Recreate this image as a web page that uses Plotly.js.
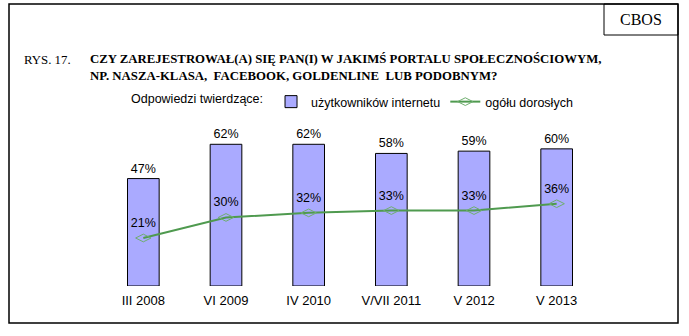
<!DOCTYPE html>
<html><head><meta charset="utf-8">
<script src="https://cdn.plot.ly/plotly-3.0.1.min.js"></script>
<style>html,body{margin:0;padding:0;background:#fff}#chart{width:689px;height:336px}</style>
</head><body><div id="chart"></div>
<script>
const categories = ["III 2008", "VI 2009", "IV 2010", "V/VII 2011", "V 2012", "V 2013"];
const internetUsers = [47, 62, 62, 58, 59, 60];
const allAdults = [21, 30, 32, 33, 33, 36];
const seriesNames = ["użytkowników internetu", "ogółu dorosłych"];

const W = 689, H = 336;
const M = {l: 102, r: 91, t: 126, b: 50};
const pw = W - M.l - M.r, ph = H - M.t - M.b;
const px = x => (x - M.l) / pw;
const py = y => (H - M.b - y) / ph;

const serif = "Liberation Serif, Times New Roman, serif";
const sans = "Liberation Sans, Arial, sans-serif";

const traces = [
  {
    type: "bar", x: categories, y: internetUsers, name: seriesNames[0],
    marker: {color: "#aaaaff", line: {color: "#000", width: 1}},
    text: internetUsers.map(v => v + "%"), textposition: "outside",
    textfont: {family: sans, size: 12.5, color: "#000"}, cliponaxis: false
  },
  {
    type: "scatter", mode: "lines+markers+text", x: categories, y: allAdults, name: seriesNames[1],
    line: {color: "#4f9a4f", width: 2},
    marker: {symbol: "diamond-wide-open", size: 11, color: "#6fae6f", line: {width: 1}},
    text: allAdults.map(v => v + "%"), textposition: "top center",
    textfont: {family: sans, size: 12.5, color: "#000"}, cliponaxis: false
  }
];

const layout = {
  width: W, height: H,
  margin: M,
  paper_bgcolor: "#fff", plot_bgcolor: "#fff",
  bargap: 0.617,
  showlegend: true,
  legend: {
    orientation: "h", x: px(129), y: py(102), xanchor: "left", yanchor: "middle",
    font: {family: sans, size: 12.5, color: "#000"},
    title: {text: "Odpowiedzi twierdzące:", side: "left", font: {family: sans, size: 12.5, color: "#000"}},
    itemwidth: 30, tracegroupgap: 0, bgcolor: "rgba(0,0,0,0)"
  },
  xaxis: {
    type: "category", showgrid: false, zeroline: false, showline: false, ticks: "",
    ticklabelstandoff: 5,
    tickfont: {family: sans, size: 13, color: "#000"}
  },
  yaxis: {range: [0, 70], visible: false, showgrid: false, zeroline: false},
  shapes: [
    {type: "rect", xref: "paper", yref: "paper", x0: px(9), x1: px(678), y0: py(4), y1: py(323),
     line: {color: "#000", width: 1.5}, fillcolor: "rgba(0,0,0,0)", layer: "below"},
    {type: "rect", xref: "paper", yref: "paper", x0: px(604), x1: px(678), y0: py(4), y1: py(35),
     line: {color: "#000", width: 1}, fillcolor: "rgba(0,0,0,0)", layer: "below"}
  ],
  annotations: [
    {xref: "paper", yref: "paper", x: px(641), y: py(20), xanchor: "center", yanchor: "middle",
     text: "CBOS", showarrow: false, font: {family: serif, size: 16, color: "#000"}},
    {xref: "paper", yref: "paper", x: px(22), y: py(60), xanchor: "left", yanchor: "middle",
     text: "RYS. 17.", showarrow: false, font: {family: serif, size: 12.8, color: "#000"}},
    {xref: "paper", yref: "paper", x: px(88), y: py(67), xanchor: "left", yanchor: "middle", align: "left",
     text: "<b>CZY ZAREJESTROWAŁ(A) SIĘ PAN(I) W JAKIMŚ PORTALU SPOŁECZNOŚCIOWYM,<br>NP. NASZA-KLASA,  FACEBOOK, GOLDENLINE  LUB PODOBNYM?</b>",
     showarrow: false, font: {family: serif, size: 12.8, color: "#000"}}
  ]
};

Plotly.newPlot("chart", traces, layout, {displayModeBar: false, staticPlot: true});
</script>
</body></html>
